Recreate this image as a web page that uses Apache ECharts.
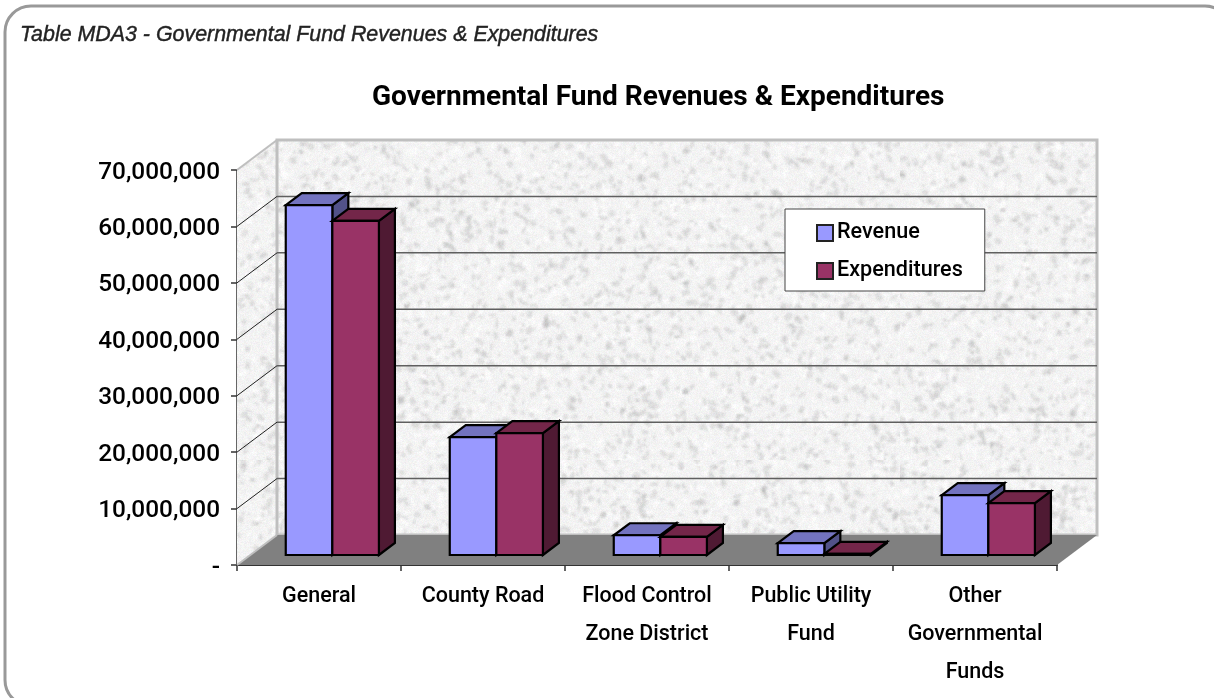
<!DOCTYPE html>
<html>
<head>
<meta charset="utf-8">
<style>
  html, body { margin: 0; padding: 0; background: #fff; }
  #chart { width: 1214px; height: 698px; }
</style>
<script src="https://cdn.jsdelivr.net/npm/echarts@6/dist/echarts.min.js"></script>
</head>
<body>
<div id="chart"></div>
<script>
const categories = ['General', 'County Road', 'Flood Control\nZone District', 'Public Utility\nFund', 'Other\nGovernmental\nFunds']
const revenue = [62000000, 20900000, 3500000, 2100000, 10600000]
const expenditures = [59200000, 21600000, 3200000, 200000, 9200000]
const valueTicks = [0, 10000000, 20000000, 30000000, 40000000, 50000000, 60000000, 70000000]

const labelFont = 'Roboto, sans-serif'

// speckled stone fill for the walls, same look as the excel texture
const makeTexture = () => {
  let seed = 12345
  const rnd = () => {
    seed = (seed * 16807) % 2147483647
    return seed / 2147483647
  }
  // blotches go on a small canvas, scaling it up softens them
  const small = document.createElement('canvas')
  small.width = 450
  small.height = 230
  const sctx = small.getContext('2d')
  sctx.fillStyle = '#f3f3f3'
  sctx.fillRect(0, 0, small.width, small.height)
  for (let i = 0; i < 9000; i++) {
    sctx.fillStyle = rnd() < 0.45 ? 'rgba(165,165,165,0.25)' : 'rgba(255,255,255,0.5)'
    sctx.beginPath()
    sctx.ellipse(rnd() * small.width, rnd() * small.height, 0.5 + rnd() * 2, 0.5 + rnd() * 1.2, rnd() * 3, 0, Math.PI * 2)
    sctx.fill()
  }
  const c = document.createElement('canvas')
  c.width = 900
  c.height = 460
  const ctx = c.getContext('2d')
  ctx.imageSmoothingEnabled = true
  ctx.drawImage(small, 0, 0, c.width, c.height)
  const img = ctx.getImageData(0, 0, c.width, c.height)
  for (let i = 0; i < img.data.length; i += 4) {
    const n = (rnd() - 0.5) * 10
    img.data[i] += n + (rnd() - 0.5) * 8
    img.data[i + 1] += n + (rnd() - 0.5) * 8
    img.data[i + 2] += n + (rnd() - 0.5) * 8
  }
  ctx.putImageData(img, 0, 0)
  return c
}
const wallTexture = makeTexture()

const depthX = 40
const depthY = 30
const barDepthStart = 1 / 3
const barDepth = 0.4
const barShare = 0.284

const polygon = (points, fill, stroke, lineWidth) => ({
  type: 'polygon',
  shape: { points },
  style: { fill, stroke, lineWidth: lineWidth || 0 }
})

const renderWalls = (params, api) => {
  const yMin = api.coord([0, 0])
  const band = api.size([1, 0])[0]
  const left = yMin[0] - band / 2
  const right = left + band * categories.length
  const base = yMin[1]
  const top = api.coord([0, valueTicks[valueTicks.length - 1]])[1]
  const children = [
    polygon([[left, base], [left + depthX, base - depthY], [left + depthX, top - depthY], [left, top]],
      { image: wallTexture, repeat: 'repeat' }),
    polygon([[left + depthX, base - depthY], [right + depthX, base - depthY], [right + depthX, top - depthY], [left + depthX, top - depthY]],
      { image: wallTexture, repeat: 'repeat' }, '#bfbfbf', 3)
  ]
  children.push({
    type: 'line',
    shape: { x1: left, y1: top, x2: left + depthX, y2: top - depthY },
    style: { stroke: '#bfbfbf', lineWidth: 2 }
  })
  valueTicks.slice(1, -1).forEach(v => {
    const y = api.coord([0, v])[1]
    children.push({
      type: 'line',
      shape: { x1: left, y1: y, x2: left + depthX, y2: y - depthY },
      style: { stroke: '#222', lineWidth: 1 }
    })
    children.push({
      type: 'line',
      shape: { x1: left + depthX, y1: y - depthY, x2: right + depthX, y2: y - depthY },
      style: { stroke: '#5f5f5f', lineWidth: 1.5 }
    })
  })
  children.push(polygon([[left, base], [right, base], [right + depthX, base - depthY], [left + depthX, base - depthY]], '#808080'))
  children.push({
    type: 'line',
    shape: { x1: left, y1: base, x2: left + depthX, y2: base - depthY },
    style: { stroke: '#bfbfbf', lineWidth: 2 }
  })
  return { type: 'group', children }
}

const makeBarRender = (seriesIndex, front, topFace, sideFace) => (params, api) => {
  const cat = api.value(0)
  const p = api.coord([cat, api.value(1)])
  const zero = api.coord([cat, 0])
  const w = api.size([1, 0])[0] * barShare
  const ox = depthX * barDepthStart
  const oy = depthY * barDepthStart
  const dx = depthX * barDepth
  const dy = depthY * barDepth
  const x0 = p[0] + ox - w + seriesIndex * w
  const x1 = x0 + w
  const yT = p[1] - oy
  const yB = zero[1] - oy
  const edge = { stroke: '#000', lineWidth: 2.2, lineJoin: 'miter' }
  return {
    type: 'group',
    children: [
      { type: 'polygon', shape: { points: [[x1, yB], [x1 + dx, yB - dy], [x1 + dx, yT - dy], [x1, yT]] }, style: { fill: sideFace, ...edge } },
      { type: 'polygon', shape: { points: [[x0, yT], [x1, yT], [x1 + dx, yT - dy], [x0 + dx, yT - dy]] }, style: { fill: topFace, ...edge } },
      { type: 'rect', shape: { x: x0, y: yT, width: w, height: yB - yT }, style: { fill: front, ...edge } }
    ]
  }
}

const chart = echarts.init(document.getElementById('chart'))

chart.setOption({
  animation: false,
  backgroundColor: '#fff',
  title: [
    {
      text: 'Table MDA3 - Governmental Fund Revenues & Expenditures',
      left: 20,
      top: 25,
      padding: 0,
      textStyle: { fontFamily: 'Liberation Sans', fontStyle: 'italic', fontWeight: 'normal', fontSize: 21.4, color: '#222', textBorderColor: '#222', textBorderWidth: 0.4 }
    },
    {
      text: 'Governmental Fund Revenues & Expenditures',
      left: 372,
      top: 84,
      padding: 0,
      textStyle: { fontFamily: 'Roboto', fontWeight: 'bold', fontSize: 28, color: '#000' }
    }
  ],
  graphic: [
    {
      type: 'rect',
      silent: true,
      shape: { x: 5, y: 6, width: 1226, height: 700, r: 26 },
      style: { fill: 'none', stroke: '#999', lineWidth: 3 }
    }
  ],
  legend: {
    orient: 'vertical',
    left: 785,
    top: 209,
    padding: [13, 22, 9, 31],
    itemGap: 16,
    itemWidth: 16,
    itemHeight: 16,
    backgroundColor: '#fff',
    borderColor: '#444',
    borderWidth: 1,
    borderRadius: 0,
    data: [
      { name: 'Revenue', icon: 'rect', itemStyle: { color: '#9999ff', borderColor: '#222', borderWidth: 2 } },
      { name: 'Expenditures', icon: 'rect', itemStyle: { color: '#993366', borderColor: '#222', borderWidth: 2 } }
    ],
    textStyle: { fontFamily: labelFont, fontWeight: 500, fontSize: 21.6, color: '#000', padding: [0, 0, 0, -1] }
  },
  grid: { left: 237, right: 157, top: 170, bottom: 133, containLabel: false },
  xAxis: {
    type: 'category',
    data: categories,
    axisLine: { onZero: false, lineStyle: { color: '#333', width: 2 } },
    axisTick: { show: true, alignWithLabel: false, length: 6, lineStyle: { color: '#333', width: 1.5 } },
    axisLabel: { interval: 0, margin: 13, lineHeight: 38, fontFamily: labelFont, fontWeight: 500, fontSize: 21.5, color: '#000' }
  },
  yAxis: {
    type: 'value',
    min: 0,
    max: 70000000,
    interval: 10000000,
    splitLine: { show: false },
    axisLine: { show: true, lineStyle: { color: '#333', width: 1.5 } },
    axisTick: { show: true, length: 6, lineStyle: { color: '#333', width: 1.5 } },
    axisLabel: {
      margin: 17,
      color: '#000',
      formatter: v => '{tick|' + (v === 0 ? '-' : v.toLocaleString('en-US')) + '}',
      rich: {
        tick: { fontFamily: 'Roboto', fontWeight: 500, fontSize: 24.4, color: '#000', padding: [5, 0, 0, 0] }
      }
    }
  },
  series: [
    {
      name: 'walls',
      type: 'custom',
      silent: true,
      renderItem: renderWalls,
      data: [[0, 0]],
      z: 1
    },
    {
      name: 'Revenue',
      type: 'custom',
      renderItem: makeBarRender(0, '#9999ff', '#7373bf', '#525289'),
      encode: { x: 0, y: 1 },
      data: revenue.map((v, i) => [i, v]),
      itemStyle: { color: '#9999ff' },
      z: 2
    },
    {
      name: 'Expenditures',
      type: 'custom',
      renderItem: makeBarRender(1, '#993366', '#732649', '#4f1a33'),
      encode: { x: 0, y: 1 },
      data: expenditures.map((v, i) => [i, v]),
      itemStyle: { color: '#993366' },
      z: 2
    }
  ]
})

window.addEventListener('resize', () => chart.resize())
</script>
</body>
</html>
